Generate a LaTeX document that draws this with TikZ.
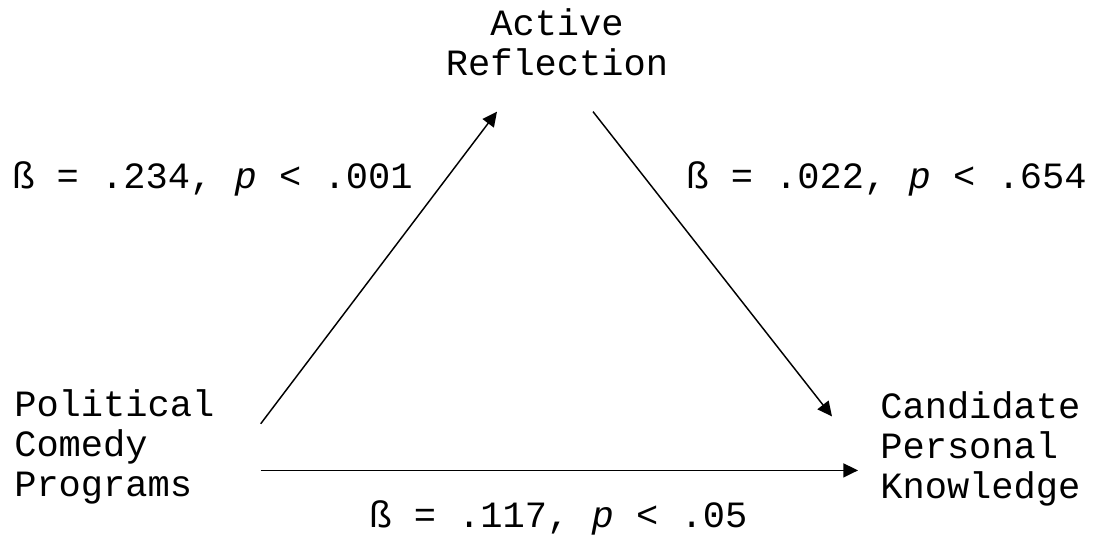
\documentclass[tikz,border=0pt]{standalone}
\usepackage{fontspec}
\setmainfont{Liberation Mono}
\usetikzlibrary{arrows.meta,positioning,calc}

\begin{document}
\begin{tikzpicture}[
    x=0.75pt, y=-0.75pt,
    vbox/.style={inner sep=0pt, align=left, anchor=base west,
                 font=\fontsize{27.8}{30}\selectfont},
    coef/.style={inner sep=0pt, anchor=base west,
                 font=\fontsize{27.8}{30}\selectfont},
    path/.style={line width=1.1pt, -{Triangle[length=11pt, width=10.5pt]}},
  ]
    \useasboundingbox (0,0) rectangle (1095,546);

    % Variables
    \node[vbox, align=center, anchor=base, inner ysep=27pt] (ar) at (557,75)
      {Active\\Reflection};
    \node[vbox, inner xsep=34.5pt] (pcp) at (-32,496)
      {Political\\Comedy\\Programs};
    \node[vbox, inner xsep=16.5pt] (cpk) at (858,498)
      {Candidate\\Personal\\Knowledge};

    % Paths
    \draw[path] ([yshift=17pt]pcp.east) -- ([xshift=-45pt]ar.south);
    \draw[path] ([xshift=27pt]ar.south) -- ([xshift=-19.5pt,yshift=24pt]cpk.west);
    \draw[path] ([yshift=-18pt]pcp.east) coordinate (d) -- (d -| cpk.west);

    % Coefficients
    \node[coef] (a) at (12,188) {ß = .234, \textit{p} < .001};
    \node[coef] (b) at (686,188) {ß = .022, \textit{p} < .654};
    \node[coef] (c) at (369,527) {ß = .117, \textit{p} < .05};
  \end{tikzpicture}
\end{document}
